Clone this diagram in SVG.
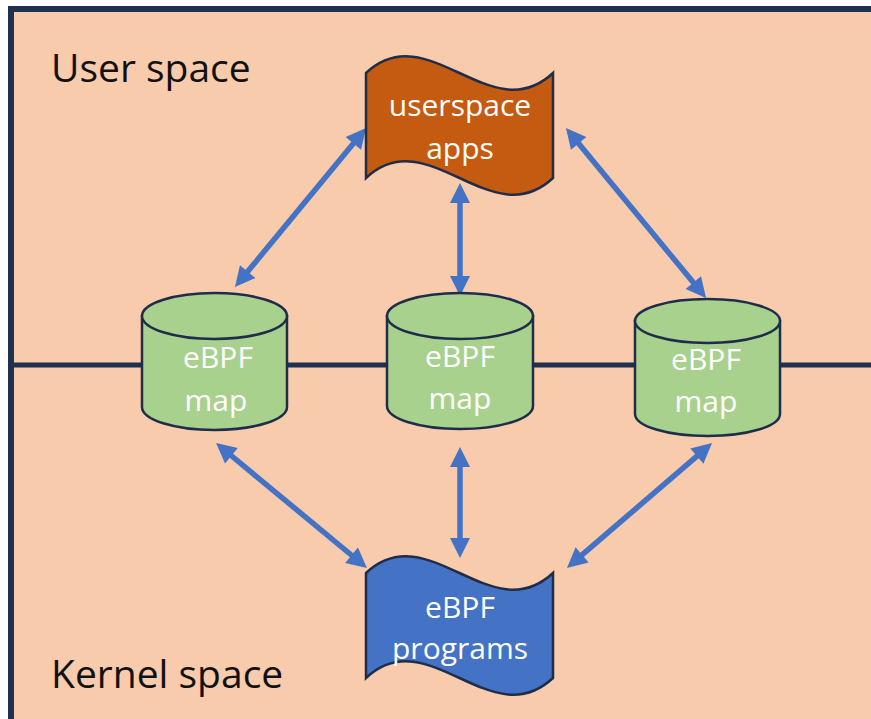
<svg xmlns="http://www.w3.org/2000/svg" width="871" height="719" viewBox="0 0 871 719">
  <defs>
    <style>
      .lbl { font-family: "Open Sans", "Noto Sans", sans-serif; fill: #ffffff; font-size: 30px; text-anchor: middle; }
      .zone { font-family: "Open Sans", "Noto Sans", sans-serif; fill: #111111; font-size: 39px; }
      .shape { stroke: #1f2d4a; stroke-width: 2.5; }
      .cyl { fill: #a9d18e; stroke: #1f2d4a; stroke-width: 2.5; }
      .link { stroke: #4472c4; stroke-width: 5.5; fill: none; marker-start: url(#head); marker-end: url(#head); }
    </style>
    <marker id="head" markerUnits="userSpaceOnUse" markerWidth="40" markerHeight="40" refX="0" refY="0" orient="auto-start-reverse" overflow="visible">
      <path d="M-2,-10 L18,0 L-2,10 Z" fill="#4472c4"/>
    </marker>
  </defs>

  <!-- background and frame -->
  <rect x="0" y="0" width="871" height="719" fill="#ffffff"/>
  <rect x="8" y="6" width="863" height="713" fill="#f8cbad"/>
  <path d="M11,719 L11,9 L871,9" fill="none" stroke="#1f3050" stroke-width="6"/>

  <!-- user / kernel boundary -->
  <line x1="11" y1="365" x2="871" y2="365" stroke="#1f3050" stroke-width="5"/>

  <text class="zone" x="51" y="82">User space</text>
  <text class="zone" x="51" y="688">Kernel space</text>

  <!-- connectors -->
  <g id="connectors">
    <line class="link" x1="246.4" y1="273.1" x2="354.6" y2="141.9"/>
    <line class="link" x1="460" y1="201" x2="460" y2="278"/>
    <line class="link" x1="577.4" y1="141.9" x2="694.6" y2="284.1"/>
    <line class="link" x1="229.9" y1="454.5" x2="353.1" y2="556.5"/>
    <line class="link" x1="460" y1="465" x2="460" y2="540"/>
    <line class="link" x1="698.4" y1="454.8" x2="580.6" y2="556.2"/>
  </g>

  <!-- userspace apps -->
  <g id="userspace-apps">
    <path class="shape" fill="#c55a11" d="M366,73 C428,15 491,131 553,73 L553,178 C491,236 428,120 366,178 Z"/>
    <text class="lbl" x="460" y="116">userspace</text>
    <text class="lbl" x="460" y="159">apps</text>
  </g>

  <!-- eBPF maps -->
  <g id="map-left">
    <path class="cyl" d="M142,316 L142,407 A72.5,23 0 0 0 287,407 L287,316 Z"/>
    <ellipse class="cyl" cx="214.5" cy="316" rx="72.5" ry="23"/>
    <text class="lbl" x="218" y="368">eBPF</text>
    <text class="lbl" x="216" y="411">map</text>
  </g>
  <g id="map-middle">
    <path class="cyl" d="M387,316 L387,406 A73,23 0 0 0 533,406 L533,316 Z"/>
    <ellipse class="cyl" cx="460" cy="316" rx="73" ry="23"/>
    <text class="lbl" x="460" y="367">eBPF</text>
    <text class="lbl" x="460" y="409">map</text>
  </g>
  <g id="map-right">
    <path class="cyl" d="M635,321 L635,414 A72.5,22 0 0 0 780,414 L780,321 Z"/>
    <ellipse class="cyl" cx="707.5" cy="321" rx="72.5" ry="22"/>
    <text class="lbl" x="706" y="370">eBPF</text>
    <text class="lbl" x="706" y="412">map</text>
  </g>

  <!-- eBPF programs -->
  <g id="ebpf-programs">
    <path class="shape" fill="#4472c4" d="M366,573 C428,515 491,631 553,573 L553,678 C491,736 428,620 366,678 Z"/>
    <text class="lbl" x="460" y="618">eBPF</text>
    <text class="lbl" x="460" y="659">programs</text>
  </g>
</svg>
